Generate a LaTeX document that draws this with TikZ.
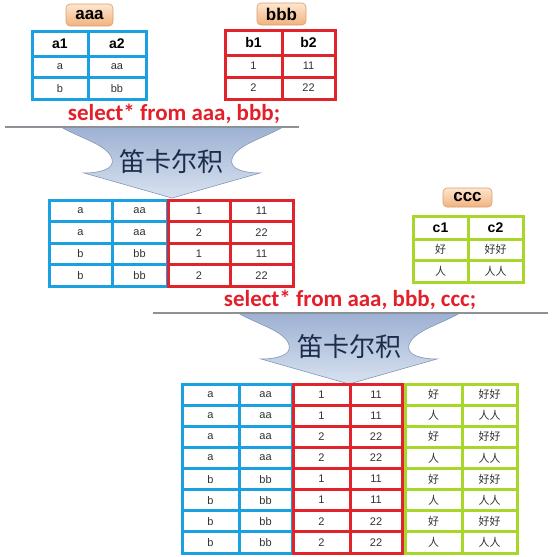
\documentclass[tikz,border=0pt]{standalone}
\usepackage{fontspec}
\setmainfont{Liberation Sans}
\newfontfamily\sqlfont{Carlito}
\newfontfamily\cjkfont{Noto Sans CJK SC}
\usepackage{xcolor}
\definecolor{TabBlue}{HTML}{1BA1E2}
\definecolor{TabRed}{HTML}{E1242C}
\definecolor{TabGreen}{HTML}{A9D62B}
\definecolor{TagTop}{HTML}{FDE6CF}
\definecolor{TagBottom}{HTML}{F2B27E}
\definecolor{TagEdge}{HTML}{D79F70}
\definecolor{ArrowTop}{HTML}{9DB1D2}
\definecolor{ArrowBottom}{HTML}{D8E2F0}
\definecolor{ArrowEdge}{HTML}{8497B8}
\definecolor{ArrowText}{HTML}{1C2D4C}
\definecolor{RuleGray}{HTML}{8C9198}
\definecolor{SqlRed}{HTML}{E3202A}
\newcommand{\RowOne}{21.5}
\newcommand{\RowTwo}{21.125}
\newcommand{\PlaceColumn}[8]{%
  % #1 prefix, #2 x centre, #3 width, #4 top y, #5 row height, #6 colour, #7 style, #8 entries
  \foreach \txt [count=\i] in {#8}{%
    \node[#7,draw=#6,minimum width=#3,minimum height=#5] (#1\i) at (#2,{#4+(\i-0.5)*#5}) {\txt};
  }%
}
\newcommand{\DrawProdArrow}[2]{%
  % #1 x of top centre, #2 y of top edge
  \begin{scope}[shift={(#1,#2)}]
    \draw[arrowbody] (-111,0) -- (111,0)
      .. controls (90,12) and (64,18) .. (60,32)
      .. controls (57,42) and (72,46) .. (88,46) -- (0,71) -- (-88,46)
      .. controls (-72,46) and (-57,42) .. (-60,32)
      .. controls (-64,18) and (-90,12) .. (-111,0) -- cycle;
  \end{scope}
}

\begin{document}
\begin{tikzpicture}[
  x=1pt,y=-1pt,
  cell/.style={draw,line width=3pt,fill=white,inner sep=0pt,text=black!80,font=\fontsize{11}{13}\selectfont},
  cjkcell/.style={cell,font=\cjkfont\fontsize{11}{13}\selectfont},
  head/.style={cell,text=black,font=\bfseries\fontsize{14}{16}\selectfont},
  tag/.style={draw=TagEdge,line width=0.6pt,rounded corners=4pt,top color=TagTop,bottom color=TagBottom,inner sep=0pt,font=\bfseries\fontsize{17}{19}\selectfont},
  sql/.style={text=SqlRed,anchor=base,font=\sqlfont\bfseries\fontsize{23}{26}\selectfont},
  rule/.style={draw=RuleGray,line width=2pt},
  arrowbody/.style={draw=ArrowEdge,line width=0.6pt,top color=ArrowTop,bottom color=ArrowBottom},
  prodtext/.style={text=ArrowText,font=\cjkfont\fontsize{26}{28}\selectfont}
]
\useasboundingbox (0,0) rectangle (554,557);

% Source tables
\node[tag,minimum width=47,minimum height=22] (aaaTag) at (89.5,15) {aaa};
\PlaceColumn{Aa}{60}{56}{31}{25}{TabBlue}{head}{a1}
\PlaceColumn{Ab}{117}{58}{31}{25}{TabBlue}{head}{a2}
\PlaceColumn{Ac}{60}{56}{56}{\RowOne}{TabBlue}{cell}{a,b}
\PlaceColumn{Ad}{117}{58}{56}{\RowOne}{TabBlue}{cell}{aa,bb}

\node[tag,minimum width=49,minimum height=22] (bbbTag) at (281.5,14) {bbb};
\PlaceColumn{Ba}{253.5}{57}{30}{25}{TabRed}{head}{b1}
\PlaceColumn{Bb}{308.5}{53}{30}{25}{TabRed}{head}{b2}
\PlaceColumn{Bc}{253.5}{57}{55}{22}{TabRed}{cell}{1,2}
\PlaceColumn{Bd}{308.5}{53}{55}{22}{TabRed}{cell}{11,22}

% First query
\node[sql] (sqlOne) at (174,120) {select* from aaa, bbb;};
\DrawProdArrow{172}{127}
\coordinate (ruleOneL) at (5,126.5);
\coordinate (ruleOneR) at (299,126.5);
\draw[rule] (ruleOneL) -- (ruleOneR);
\node[prodtext] (prodOne) at (171,162) {笛卡尔积};

% aaa x bbb
\PlaceColumn{Pa}{80.5}{63}{200}{\RowOne}{TabBlue}{cell}{a,a,b,b}
\PlaceColumn{Pb}{139.5}{55}{200}{\RowOne}{TabBlue}{cell}{aa,aa,bb,bb}
\PlaceColumn{Pc}{199}{62}{200}{\RowOne}{TabRed}{cell}{1,2,1,2}
\PlaceColumn{Pd}{261.5}{63}{200}{\RowOne}{TabRed}{cell}{11,22,11,22}

% Table ccc
\node[tag,minimum width=49,minimum height=19] (cccTag) at (467.5,197.5) {ccc};
\PlaceColumn{Ca}{440.5}{55}{216}{23}{TabGreen}{head}{c1}
\PlaceColumn{Cb}{495.5}{55}{216}{23}{TabGreen}{head}{c2}
\PlaceColumn{Cc}{440.5}{55}{239}{\RowOne}{TabGreen}{cjkcell}{好,人}
\PlaceColumn{Cd}{495.5}{55}{239}{\RowOne}{TabGreen}{cjkcell}{好好,人人}

% Second query
\node[sql] (sqlTwo) at (350,306) {select* from aaa, bbb, ccc;};
\DrawProdArrow{349}{313}
\coordinate (ruleTwoL) at (153,313);
\coordinate (ruleTwoR) at (548,313);
\draw[rule] (ruleTwoL) -- (ruleTwoR);
\node[prodtext] (prodTwo) at (349,347) {笛卡尔积};

% aaa x bbb x ccc
\PlaceColumn{Qa}{210.5}{57}{384}{\RowTwo}{TabBlue}{cell}{a,a,a,a,b,b,b,b}
\PlaceColumn{Qb}{265.5}{53}{384}{\RowTwo}{TabBlue}{cell}{aa,aa,aa,aa,bb,bb,bb,bb}
\PlaceColumn{Qc}{321.5}{57}{384}{\RowTwo}{TabRed}{cell}{1,1,2,2,1,1,2,2}
\PlaceColumn{Qd}{376}{52}{384}{\RowTwo}{TabRed}{cell}{11,11,22,22,11,11,22,22}
\PlaceColumn{Qe}{433.5}{57}{384}{\RowTwo}{TabGreen}{cjkcell}{好,人,好,人,好,人,好,人}
\PlaceColumn{Qf}{489.5}{55}{384}{\RowTwo}{TabGreen}{cjkcell}{好好,人人,好好,人人,好好,人人,好好,人人}

\end{tikzpicture}
\end{document}
